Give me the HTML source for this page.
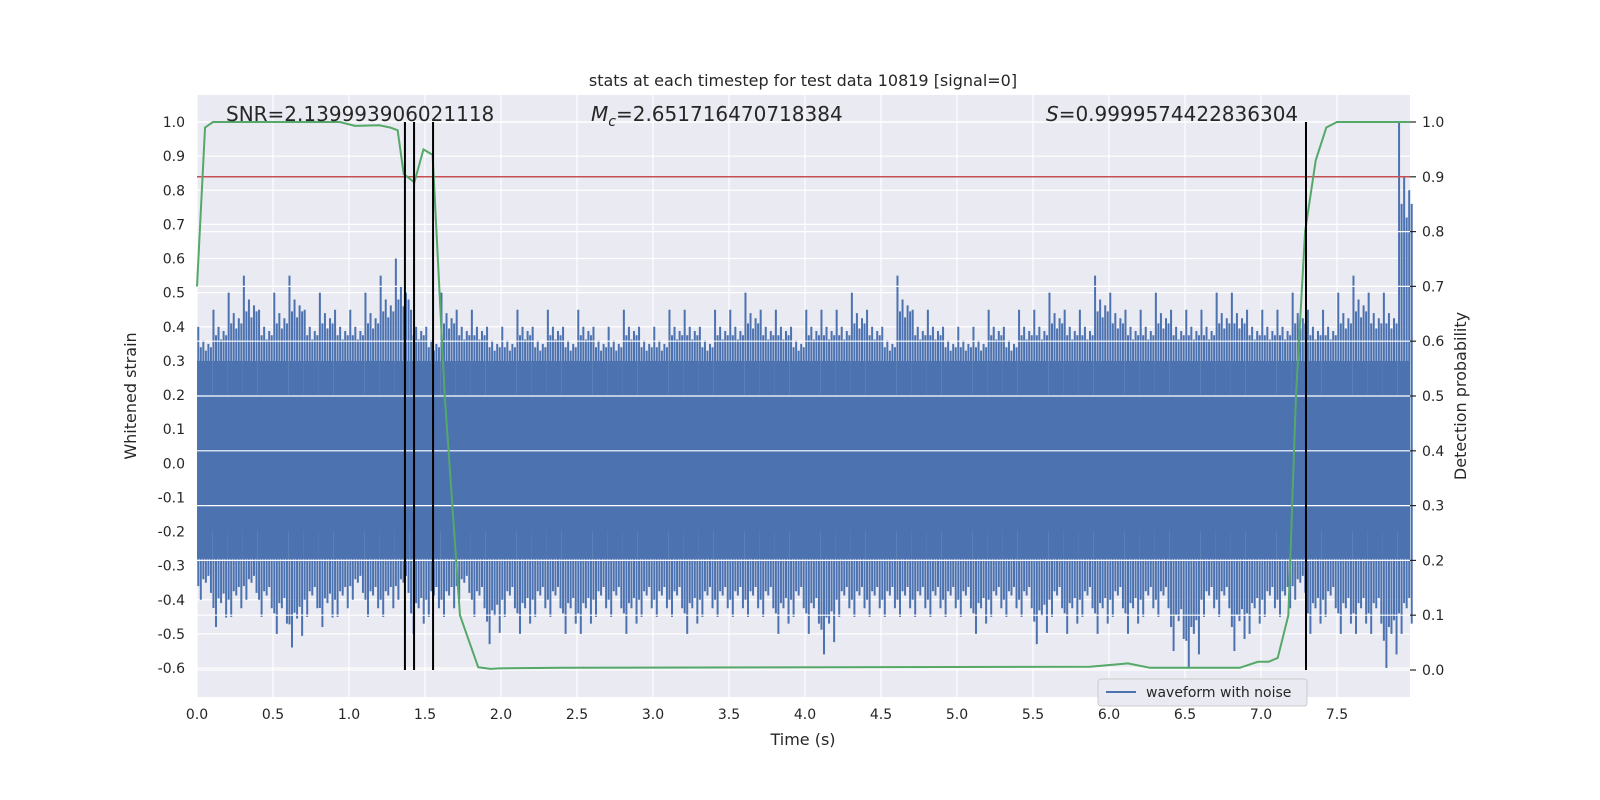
<!DOCTYPE html>
<html><head><meta charset="utf-8">
<style>
html,body{margin:0;padding:0;background:#fff;overflow:hidden;width:100%;height:100%;font-family:"Liberation Sans","DejaVu Sans",sans-serif;}
svg{display:block;position:fixed;left:0;top:0;width:100vw;height:100vh;}
svg text{font-family:"DejaVu Sans","Liberation Sans",sans-serif;fill:#262626;}
</style></head>
<body>
<svg id="chart" viewBox="0 0 1600 800" preserveAspectRatio="none" xmlns="http://www.w3.org/2000/svg">
<rect x="0" y="0" width="1600" height="800" fill="#fff"/>
<rect x="197" y="95" width="1213" height="602" fill="#eaeaf2"/>
<g id="grid"></g>
<g id="wave"></g>
<g id="grid2"></g>
<g id="over"></g>
<g id="axes"></g>
<text x="803" y="86" font-size="16" text-anchor="middle">stats at each timestep for test data 10819 [signal=0]</text>
<text x="226" y="121" font-size="20">SNR=2.139993906021118</text>
<text x="591" y="121" font-size="20"><tspan font-style="italic">M</tspan><tspan font-style="italic" font-size="14" dy="5">c</tspan><tspan dy="-5">=2.651716470718384</tspan></text>
<text x="1046" y="121" font-size="20"><tspan font-style="italic">S</tspan>=0.9999574422836304</text>
<text x="803" y="745" font-size="16" text-anchor="middle">Time (s)</text>
<text x="136" y="396" font-size="16" text-anchor="middle" transform="rotate(-90 136 396)">Whitened strain</text>
<text x="1466" y="396" font-size="16" text-anchor="middle" transform="rotate(-90 1466 396)">Detection probability</text>
<g>
<rect x="1098" y="679" width="209" height="27" rx="3" fill="#eaeaf2" stroke="#cccccc"/>
<line x1="1106" y1="692" x2="1136" y2="692" stroke="#4c72b0" stroke-width="2"/>
<text x="1146" y="697" font-size="14">waveform with noise</text>
</g>
</svg>
<script>
const xTicks=[0,0.5,1,1.5,2,2.5,3,3.5,4,4.5,5,5.5,6,6.5,7,7.5];
const yTicksLeft=[-0.6,-0.5,-0.4,-0.3,-0.2,-0.1,0,0.1,0.2,0.3,0.4,0.5,0.6,0.7,0.8,0.9,1.0];
const yTicksRight=[0,0.1,0.2,0.3,0.4,0.5,0.6,0.7,0.8,0.9,1.0];
// waveform envelope per 0.1 s bin
const waveHi=[0.40,0.45,0.50,0.55,0.45,0.50,0.55,0.45,0.50,0.45,0.45,0.50,0.55,0.60,0.45,0.40,0.50,0.45,0.45,0.40,0.40,0.45,0.40,0.45,0.40,0.45,0.40,0.40,0.45,0.40,0.40,0.45,0.45,0.40,0.45,0.45,0.50,0.45,0.45,0.40,0.45,0.45,0.45,0.50,0.45,0.40,0.55,0.45,0.45,0.40,0.40,0.40,0.45,0.40,0.45,0.45,0.50,0.45,0.45,0.55,0.50,0.45,0.45,0.50,0.45,0.45,0.45,0.50,0.50,0.45,0.45,0.45,0.50,0.45,0.45,0.50,0.55,0.50,0.50,1.00];
const waveLo=[-0.40,-0.48,-0.45,-0.40,-0.45,-0.50,-0.54,-0.45,-0.48,-0.45,-0.40,-0.45,-0.45,-0.40,-0.50,-0.45,-0.45,-0.40,-0.45,-0.53,-0.45,-0.50,-0.45,-0.45,-0.50,-0.50,-0.45,-0.45,-0.50,-0.45,-0.45,-0.45,-0.50,-0.45,-0.45,-0.45,-0.45,-0.45,-0.50,-0.45,-0.50,-0.56,-0.45,-0.45,-0.45,-0.45,-0.45,-0.45,-0.45,-0.45,-0.45,-0.50,-0.45,-0.45,-0.45,-0.53,-0.45,-0.50,-0.45,-0.50,-0.45,-0.50,-0.45,-0.45,-0.55,-0.60,-0.45,-0.45,-0.55,-0.50,-0.45,-0.45,-0.40,-0.50,-0.45,-0.50,-0.50,-0.50,-0.60,-0.50];
// detection probability curve
const probT=[0,0.053,0.105,0.94,1.04,1.2,1.27,1.32,1.36,1.43,1.49,1.55,1.63,1.73,1.85,1.93,1.99,2.4,5.875,6.125,6.27,6.86,6.98,7.05,7.11,7.18,7.23,7.29,7.36,7.43,7.5,7.98];
const probV=[0.70,0.99,1.0,1.0,0.993,0.994,0.99,0.985,0.905,0.89,0.95,0.94,0.5,0.1,0.005,0.002,0.003,0.004,0.006,0.012,0.004,0.004,0.015,0.015,0.022,0.10,0.5,0.8,0.93,0.99,1.0,1.0];
const vlineT=[1.368,1.428,1.553,7.296];
const threshold=0.9;

const NS='http://www.w3.org/2000/svg';
const X=t=>197+t*152;
const YL=v=>463.25-v*341.25;
const YR=p=>670-p*548;
function mk(tag,attrs,parent){const e=document.createElementNS(NS,tag);for(const k in attrs)e.setAttribute(k,attrs[k]);parent.appendChild(e);return e;}
const grid=document.getElementById('grid'),grid2=document.getElementById('grid2'),wave=document.getElementById('wave'),over=document.getElementById('over'),axes=document.getElementById('axes');
xTicks.forEach(t=>{
  const l=mk('line',{x1:X(t),x2:X(t),y1:95,y2:697,stroke:'#fff','stroke-width':1.2},grid);
  
  
  const tx=mk('text',{x:X(t),y:719,'font-size':14,'text-anchor':'middle'},axes);
  tx.textContent=t.toFixed(1);
  
  
});
yTicksLeft.forEach(v=>{
  const l=mk('line',{x1:197,x2:1410,y1:YL(v),y2:YL(v),stroke:'#fff','stroke-width':1.2},grid);
  
  
  const tx=mk('text',{x:185,y:YL(v)+5,'font-size':14,'text-anchor':'end'},axes);
  tx.textContent=v.toFixed(1);
  
  
});
yTicksRight.forEach(p=>{
  const l=mk('line',{x1:197,x2:1410,y1:YR(p),y2:YR(p),stroke:'#fff','stroke-width':1.2},grid2);
  
  
  mk('line',{x1:1410,x2:1416,y1:YR(p),y2:YR(p),stroke:'#262626','stroke-width':1.2},axes);
  const tx=mk('text',{x:1422,y:YR(p)+5,'font-size':14},axes);
  tx.textContent=p.toFixed(1);
  
  
});
// waveform
const binW=0.1;
mk('rect',{x:X(0),y:YL(0.2),width:X(7.98)-X(0),height:YL(-0.2)-YL(0.2),fill:'#4c72b0'},wave);
waveHi.forEach((h,i)=>{
  const t0=i*binW;
  for(let k=0;k<6;k++){
    const t=t0+binW*(k+0.5)/6;
    const f=[1,0.7,0.8,0.65,0.75,0.7][k];
    const g=[0.8,1,0.7,0.75,0.65,0.9][k];
    const top=0.2+(h-0.2)*f, bot=-0.2+(waveLo[i]+0.2)*g;
    const l=mk('line',{x1:X(t),x2:X(t),y1:YL(top),y2:YL(bot),stroke:'#4c72b0','stroke-width':2},wave);
    
    
  }
  const w=Math.min(binW*152,1410-X(t0));
  mk('rect',{x:X(t0),y:YL(0.3),width:w,height:YL(-0.28)-YL(0.3),fill:'#4c72b0'},wave);
});
// threshold
const th=mk('line',{x1:197,x2:1410,y1:YR(threshold),y2:YR(threshold),stroke:'#c44e52','stroke-width':1.5},over);


// prob curve
const pts=probT.map((t,i)=>X(t)+','+YR(probV[i])).join(' ');
const pl=mk('polyline',{points:pts,fill:'none',stroke:'#55a868','stroke-width':2},over);


vlineT.forEach(t=>{
  const l=mk('line',{x1:X(t),x2:X(t),y1:YR(1),y2:YR(0),stroke:'#000','stroke-width':2},over);
  
  
});
</script>
</body></html>
